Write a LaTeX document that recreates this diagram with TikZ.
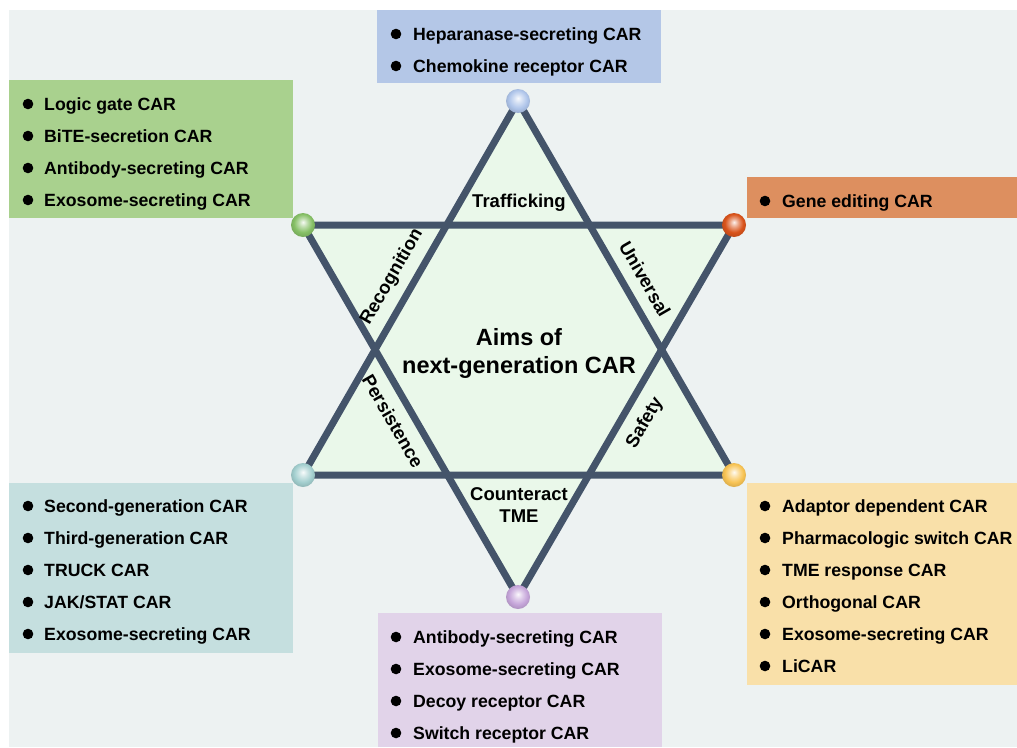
\documentclass[tikz,border=0pt]{standalone}
\usepackage{fontspec}
\setmainfont{Liberation Sans}
\definecolor{bgc}{HTML}{EDF2F2}
\definecolor{starfill}{HTML}{EAF8EA}
\definecolor{starline}{HTML}{44546A}
\definecolor{boxblue}{HTML}{B4C7E7}
\definecolor{boxgreen}{HTML}{A9D18E}
\definecolor{boxorange}{HTML}{DD8F5F}
\definecolor{boxteal}{HTML}{C5DFDF}
\definecolor{boxyellow}{HTML}{F9E0A9}
\definecolor{boxpurple}{HTML}{E1D3E9}
\definecolor{ballblue}{HTML}{AFC5EA}
\definecolor{ballgreen}{HTML}{86C066}
\definecolor{ballred}{HTML}{D9541C}
\definecolor{ballteal}{HTML}{A3CFCF}
\definecolor{ballyellow}{HTML}{F8C455}
\definecolor{ballpurple}{HTML}{C6A6DA}
\makeatletter
\pgfdeclareradialshading[tikz@ball]{softball}{\pgfpoint{0bp}{6bp}}{%
  color(0bp)=(tikz@ball!8!white);
  color(9bp)=(tikz@ball!55!white);
  color(19bp)=(tikz@ball);
  color(26bp)=(tikz@ball!90!black);
  color(50bp)=(tikz@ball!80!black)}
\makeatother
\begin{document}
\begin{tikzpicture}[x=1pt,y=-1pt,
  panel/.style={anchor=north west,inner sep=0pt,outer sep=0pt,draw=none},
  item/.style={anchor=base west,inner sep=0pt,font=\fontsize{17.7}{20}\selectfont\bfseries},
  aim/.style={inner sep=0pt,font=\fontsize{18.5}{22}\selectfont\bfseries,align=center},
  ballnode/.style={circle,minimum size=24pt,inner sep=0pt,draw=none,ball color=#1,shading=softball},
  edge/.style={draw=starline,line width=7pt,line join=miter}]
\useasboundingbox (0,0) rectangle (1017,747);
\fill[white] (0,0) rectangle (1017,747);
\fill[bgc] (9,10) rectangle (1017,747);
% panels
\node[panel,fill=boxblue,minimum width=284pt,minimum height=73pt] (pblue) at (377,10) {};
\node[panel,fill=boxgreen,minimum width=284pt,minimum height=138pt] (pgreen) at (9,80) {};
\node[panel,fill=boxorange,minimum width=271pt,minimum height=41pt] (porange) at (746.5,177) {};
\node[panel,fill=boxteal,minimum width=284pt,minimum height=170pt] (pteal) at (9,482.5) {};
\node[panel,fill=boxyellow,minimum width=271pt,minimum height=202.5pt] (pyellow) at (746.5,482.5) {};
\node[panel,fill=boxpurple,minimum width=284pt,minimum height=134pt] (ppurple) at (377.5,613) {};
% lists
\foreach \t [count=\i] in {Heparanase-secreting CAR,Chemokine receptor CAR}{
  \fill (396,{34+32*(\i-1)}) circle (5.3);
  \node[item] (blue\i) at (413,{40.3+32*(\i-1)}) {\t};}
\foreach \t [count=\i] in {Logic gate CAR,BiTE-secretion CAR,Antibody-secreting CAR,Exosome-secreting CAR}{
  \fill (28,{104+32*(\i-1)}) circle (5.3);
  \node[item] (green\i) at (44,{110.3+32*(\i-1)}) {\t};}
\foreach \t [count=\i] in {Gene editing CAR}{
  \fill (765,{201+32*(\i-1)}) circle (5.3);
  \node[item] (orange\i) at (782,{207.3+32*(\i-1)}) {\t};}
\foreach \t [count=\i] in {Second-generation CAR,Third-generation CAR,TRUCK CAR,JAK/STAT CAR,Exosome-secreting CAR}{
  \fill (28,{506+32*(\i-1)}) circle (5.3);
  \node[item] (teal\i) at (44,{512.3+32*(\i-1)}) {\t};}
\foreach \t [count=\i] in {Adaptor dependent CAR,Pharmacologic switch CAR,TME response CAR,Orthogonal CAR,Exosome-secreting CAR,LiCAR}{
  \fill (765,{506+32*(\i-1)}) circle (5.3);
  \node[item] (yellow\i) at (782,{512.3+32*(\i-1)}) {\t};}
\foreach \t [count=\i] in {Antibody-secreting CAR,Exosome-secreting CAR,Decoy receptor CAR,Switch receptor CAR}{
  \fill (396,{637+32*(\i-1)}) circle (5.3);
  \node[item] (purple\i) at (413,{643.3+32*(\i-1)}) {\t};}
% star
\coordinate (T) at (518,101);
\coordinate (UL) at (303,225);
\coordinate (UR) at (734,225);
\coordinate (LL) at (303,475);
\coordinate (LR) at (734,475);
\coordinate (B) at (518,597);
\fill[starfill] (T) -- (LL) -- (LR) -- cycle;
\fill[starfill] (UL) -- (UR) -- (B) -- cycle;
\draw[edge] (T) -- (LL) -- (LR) -- cycle;
\draw[edge] (UL) -- (UR) -- (B) -- cycle;
\node[ballnode=ballblue] (vT) at (T) {};
\node[ballnode=ballgreen] (vUL) at (UL) {};
\node[ballnode=ballred] (vUR) at (UR) {};
\node[ballnode=ballteal] (vLL) at (LL) {};
\node[ballnode=ballyellow] (vLR) at (LR) {};
\node[ballnode=ballpurple] (vB) at (B) {};
% labels
\node[aim] (traf) at (519,203) {Trafficking};
\node[aim] (cntr) at (519,505.5) {Counteract\\[0pt]TME};
\node[aim,rotate=60] (recog) at (392,277) {Recognition};
\node[aim,rotate=-60] (pers) at (393,421) {Persistence};
\node[aim,rotate=-60] (univ) at (645,279) {Universal};
\node[aim,rotate=60] (safe) at (645,423) {Safety};
\node[inner sep=0pt,font=\fontsize{23.5}{28}\selectfont\bfseries,align=center] (aims) at (519,353) {Aims of\\next-generation CAR};
\end{tikzpicture}
\end{document}
